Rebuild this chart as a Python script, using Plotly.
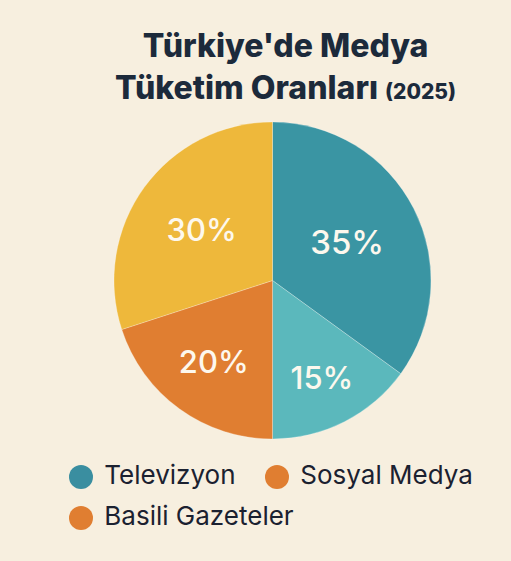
import plotly.graph_objects as go

# Data
categories = ["Televizyon", "Dijital Platformlar", "Basili Gazeteler", "Sosyal Medya"]
values = [35, 15, 20, 30]
slice_colors = ["#3a95a3", "#5bb8bc", "#e07e31", "#eeb83b"]

legend_labels = ["Televizyon", "Sosyal Medya", "Basili Gazeteler"]
legend_colors = ["#3a8ea0", "#e07e31", "#e07e31"]

BG = "#f7efdf"
W, H = 511, 561

fig = go.Figure()

fig.add_trace(go.Pie(
    labels=categories,
    values=values,
    sort=False,
    direction="clockwise",
    rotation=0,
    marker=dict(colors=slice_colors, line=dict(color="rgba(255,255,255,0.25)", width=1)),
    texttemplate="%{value}%",
    textposition="inside",
    insidetextorientation="horizontal",
    insidetextfont=dict(family="Inter", size=[33, 31, 31, 31], color="#fdf8ee", weight=500),
    showlegend=False,
    hoverinfo="label+percent",
    domain=dict(x=[114 / W, 431 / W], y=[1 - 440 / H, 1 - 121 / H]),
))

# Custom legend (two rows) on hidden pixel-scaled axes
leg_x = [81, 277, 81]
leg_y = [477, 477, 518]
fig.add_trace(go.Scatter(
    x=leg_x, y=leg_y,
    mode="markers+text",
    marker=dict(size=24, color=legend_colors, line=dict(width=0)),
    text=[" " + t for t in legend_labels],
    textposition="middle right",
    textfont=dict(family="Inter", size=26, color="#1b2130"),
    showlegend=False,
    hoverinfo="skip",
    cliponaxis=False,
))

fig.update_layout(
    width=W, height=H,
    margin=dict(l=0, r=0, t=0, b=0),
    paper_bgcolor=BG,
    plot_bgcolor=BG,
    xaxis=dict(range=[0, W], visible=False, domain=[0, 1], fixedrange=True),
    yaxis=dict(range=[H, 0], visible=False, domain=[0, 1], fixedrange=True),
    annotations=[
        dict(
            text="Türkiye'de Medya<br>Tüketim Oranları <span style='font-size:21px'>(2025)</span>",
            x=285 / W, y=1 - 66 / H, xref="paper", yref="paper",
            xanchor="center", yanchor="middle", showarrow=False,
            align="center",
            font=dict(family="Inter", size=32, color="#1c2a3b", weight=800),
        )
    ],
)

fig.write_html("out.html")
